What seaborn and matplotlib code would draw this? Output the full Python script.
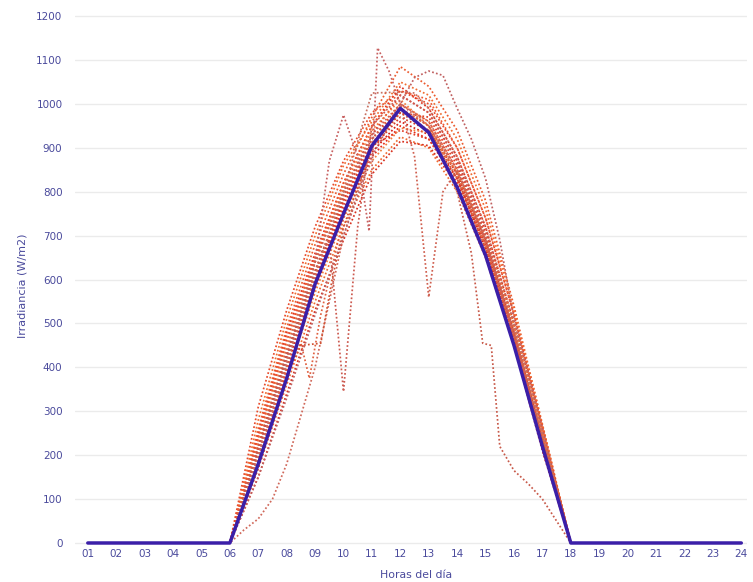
import numpy as np
import pandas as pd
import matplotlib
matplotlib.use("Agg")
import matplotlib.pyplot as plt
import seaborn as sns

# ---------------- data ----------------
hour_labels = [f"{h:02d}" for h in range(1, 25)]
night_am = [1, 2, 3, 4, 5]
night_pm = [19, 20, 21, 22, 23, 24]

hours_h = [6, 7, 8, 9, 10, 11, 12, 13, 14, 15, 16, 17, 18]

# regular days (hourly values, W/m2)
day01 = [0, 250, 480, 660, 820, 950, 1040, 990, 880, 720, 500, 260, 0]
day02 = [0, 220, 430, 620, 790, 920, 1000, 960, 850, 690, 480, 240, 0]
day03 = [0, 200, 400, 600, 760, 890, 960, 930, 830, 670, 460, 230, 0]
day04 = [0, 170, 360, 550, 720, 850, 925, 900, 800, 650, 450, 220, 0]
day05 = [0, 240, 460, 650, 800, 930, 1020, 980, 870, 710, 500, 250, 0]
day06 = [0, 260, 490, 680, 840, 970, 1085, 1040, 940, 780, 540, 270, 0]
day07 = [0, 150, 340, 530, 690, 840, 915, 905, 815, 655, 455, 215, 0]
day08 = [0, 230, 450, 640, 810, 940, 1010, 950, 840, 680, 470, 230, 0]
day09 = [0, 210, 420, 610, 780, 910, 980, 970, 860, 700, 490, 250, 0]
day10 = [0, 190, 390, 580, 750, 880, 950, 920, 820, 660, 450, 210, 0]
day11 = [0, 240, 470, 650, 820, 950, 1030, 1010, 900, 740, 520, 260, 0]
day12 = [0, 200, 410, 600, 770, 900, 970, 940, 840, 690, 480, 240, 0]
day13 = [0, 280, 510, 700, 860, 960, 1050, 1020, 920, 760, 530, 270, 0]
day14 = [0, 215, 425, 615, 780, 905, 940, 920, 830, 680, 470, 235, 0]
day15 = [0, 310, 530, 720, 870, 980, 1030, 1000, 900, 740, 520, 265, 0]
day16 = [0, 180, 380, 570, 740, 870, 945, 935, 845, 700, 495, 250, 0]

# irregular days (own hour grids)
hoursA = [6, 7, 8, 9, 9.5, 10, 10.5, 10.9, 11.2, 11.6, 12, 13, 14, 15, 16, 17, 18]
dayA = [0, 200, 420, 640, 870, 975, 880, 710, 1128, 1075, 1000, 950, 850, 690, 470, 230, 0]

hoursB = [6, 7, 8, 8.5, 9, 9.5, 10, 10.5, 11, 12, 13, 14, 15, 16, 17, 18]
dayB = [0, 190, 400, 520, 640, 690, 345, 720, 950, 1020, 980, 870, 700, 480, 240, 0]

hoursC = [6, 7, 8, 9, 10, 11, 12, 12.5, 13, 13.5, 14, 15, 16, 17, 18]
dayC = [0, 220, 440, 640, 800, 930, 1000, 880, 560, 800, 850, 690, 480, 240, 0]

hoursD = [6, 7, 8, 9, 10, 11, 12, 13, 14, 14.5, 14.9, 15.2, 15.5, 16, 16.5, 17, 17.5, 18]
dayD = [0, 220, 430, 620, 790, 920, 990, 950, 800, 660, 455, 450, 220, 165, 135, 100, 50, 0]

hoursE = [6, 6.5, 7, 7.5, 8, 8.5, 9, 9.5, 10, 11, 12, 13, 14, 15, 16, 17, 18]
dayE = [0, 30, 55, 100, 180, 290, 400, 550, 700, 900, 1000, 960, 850, 690, 480, 240, 0]

hoursF = [6, 7, 8, 8.5, 8.8, 9.2, 10, 11, 12, 13, 14, 15, 16, 17, 18]
dayF = [0, 190, 400, 455, 375, 520, 740, 910, 990, 950, 840, 680, 470, 230, 0]

hoursG = [6, 7, 8, 8.5, 9.2, 9.6, 10, 11, 12, 13, 14, 15, 16, 17, 18]
dayG = [0, 170, 380, 450, 455, 600, 720, 900, 980, 940, 830, 670, 460, 220, 0]

hoursH = [6, 7, 8, 9, 10, 11, 12, 12.5, 13, 13.5, 14, 14.5, 15, 15.5, 16, 16.5, 17, 17.5, 18]
dayH = [0, 150, 330, 520, 700, 880, 1000, 1060, 1075, 1065, 990, 920, 830, 690, 510, 390, 260, 130, 0]

hoursI = [6, 7, 8, 9, 10, 10.7, 11, 12, 12.5, 13, 14, 15, 16, 17, 18]
dayI = [0, 200, 410, 610, 800, 960, 1025, 1027, 1025, 990, 880, 720, 500, 250, 0]

# average curve
mean_hours = [1, 2, 3, 4, 5, 6, 7, 8, 9, 10, 11, 12, 13, 14, 15, 16, 17, 18,
              19, 20, 21, 22, 23, 24]
mean_vals = [0, 0, 0, 0, 0, 0, 180, 375, 590, 750, 905, 990, 935, 810, 655,
             450, 220, 0, 0, 0, 0, 0, 0, 0]

# ---------------- build table ----------------
series = [
    ("d01", hours_h, day01), ("d02", hours_h, day02), ("d03", hours_h, day03),
    ("d04", hours_h, day04), ("d05", hours_h, day05), ("d06", hours_h, day06),
    ("d07", hours_h, day07), ("d08", hours_h, day08), ("d09", hours_h, day09),
    ("d10", hours_h, day10), ("d11", hours_h, day11), ("d12", hours_h, day12),
    ("d13", hours_h, day13), ("d14", hours_h, day14), ("d15", hours_h, day15),
    ("d16", hours_h, day16),
    ("dA", hoursA, dayA), ("dB", hoursB, dayB), ("dC", hoursC, dayC),
    ("dD", hoursD, dayD), ("dE", hoursE, dayE), ("dF", hoursF, dayF),
    ("dG", hoursG, dayG), ("dH", hoursH, dayH), ("dI", hoursI, dayI),
]
rows = []
for name, hx, vy in series:
    xs = night_am + list(hx) + night_pm
    ys = [0] * len(night_am) + list(vy) + [0] * len(night_pm)
    for a, b in zip(xs, ys):
        rows.append({"hour": a, "irr": b, "day": name})
df = pd.DataFrame(rows)
df_mean = pd.DataFrame({"hour": mean_hours, "irr": mean_vals})

bundle_cols = ["#e3301a", "#ef4a22", "#d42018", "#f06a30", "#e03a26",
               "#ec5a2e", "#d8301e", "#f27a3c", "#e04024", "#e82a18",
               "#ee5a34", "#d63a28", "#f06c30", "#e04028", "#e84a2a",
               "#f08040"]
outlier_cols = ["#c86060", "#cc5a50", "#d06050", "#c85a4a", "#d0685a",
                "#e06040", "#d05030", "#c06060", "#c87060"]
palette = dict(zip([s[0] for s in series], bundle_cols + outlier_cols))

# ---------------- plot ----------------
sns.set_theme(style="white")
plt.rcParams["font.family"] = ["DejaVu Sans"]
txt_col = "#4a4a9c"

fig = plt.figure(figsize=(7.53, 5.82), dpi=100)
ax = fig.add_axes([0.0996, 0.061, 0.8924, 0.915])

sns.lineplot(data=df, x="hour", y="irr", hue="day", palette=palette,
             dashes=False, linestyle=(0, (1, 1.3)), linewidth=1.25,
             legend=False, estimator=None, ax=ax)
sns.lineplot(data=df_mean, x="hour", y="irr", color="#3b1fa8",
             linewidth=2.5, ax=ax, estimator=None)

ax.set_xlim(0.55, 24.2)
ax.set_ylim(-8, 1205)
ax.set_xticks(range(1, 25))
ax.set_xticklabels(hour_labels)
ax.set_yticks(range(0, 1201, 100))
ax.yaxis.grid(True, color="#ebebeb", linewidth=1.0)
ax.xaxis.grid(False)
ax.set_axisbelow(True)
for sp in ax.spines.values():
    sp.set_visible(False)
ax.tick_params(axis="both", length=0, labelsize=7.5, colors=txt_col)
ax.tick_params(axis="y", pad=9)
ax.tick_params(axis="x", pad=1.5)
ax.set_xlabel("Horas del día", fontsize=7.8, color=txt_col)
ax.set_ylabel("Irradiancia (W/m2)", fontsize=8, color=txt_col)
ax.xaxis.set_label_coords(0.507, -0.045)
ax.yaxis.set_label_coords(-0.07, 0.49)

fig.savefig("out.png", dpi=100)
